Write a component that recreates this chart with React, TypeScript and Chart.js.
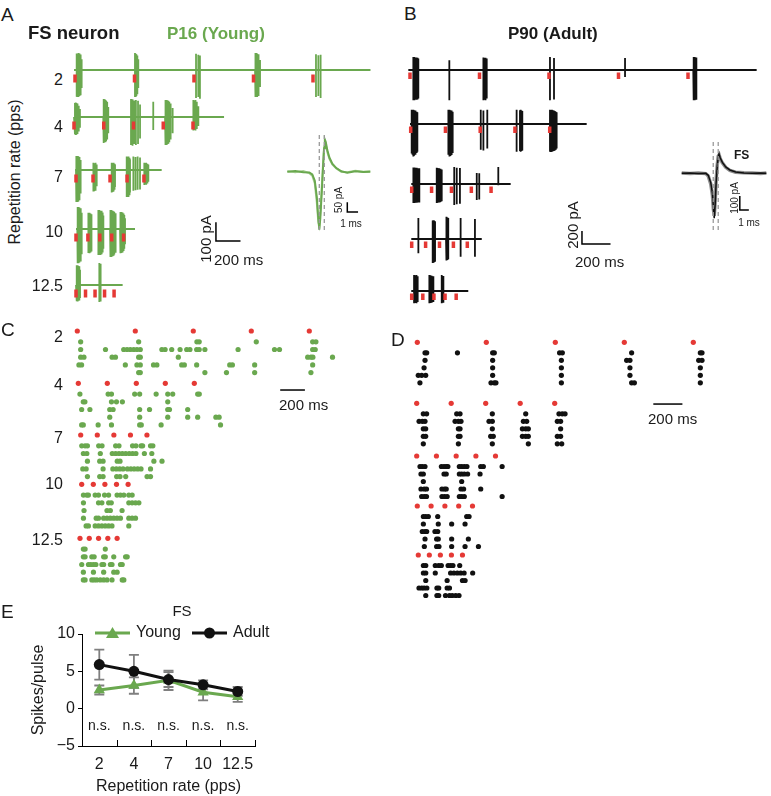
import React, { useEffect, useRef } from 'react';
import { Chart, registerables } from 'chart.js';

Chart.register(...registerables);

const FONT = '"Liberation Sans", Arial, Helvetica, sans-serif';
Chart.defaults.font.family = FONT;

const GREEN = '#6aa84f';
const GREEN_LIGHT = '#a8cf94';
const RED = '#e53935';
const BLACK = '#111111';
const TEXT = '#1a1a1a';

// ---------------- data ----------------
const RATE_LABELS = ['2', '4', '7', '10', '12.5'];

// stimulus (pulse) times, ms from first pulse
const STIM_2 = [0, 500, 1000, 1500, 2000];
const STIM_4 = [0, 250, 500, 750, 1000];
const STIM_7 = [0, 143, 286, 429, 571];
const STIM_10 = [0, 100, 200, 300, 400];
const STIM_12 = [0, 80, 160, 240, 320];

// Panel A traces (P16): spike events [time ms, upward pA, downward pA]
const A_TRACE_2 = [
  [14, 92, 148], [20, 85, 150], [26, 95, 145], [32, 88, 150], [38, 92, 145], [44, 86, 140], [50, 80, 135], [56, 60, 100],
  [504, 95, 150], [510, 90, 150], [516, 88, 145], [524, 80, 135], [532, 60, 100],
  [1017, 90, 155], [1036, 85, 150], [1050, 80, 160],
  [1513, 95, 140], [1519, 92, 150], [1525, 95, 145], [1531, 90, 150], [1538, 88, 145], [1546, 80, 135], [1555, 55, 95],
  [2025, 88, 150], [2045, 82, 145], [2064, 85, 155],
];
const A_TRACE_4 = [
  [8, 78, 95], [14, 80, 100], [20, 78, 98], [26, 75, 95], [32, 70, 90], [40, 62, 80], [50, 45, 60],
  [246, 100, 140], [252, 95, 145], [258, 98, 140], [264, 95, 140], [270, 90, 135], [279, 85, 125], [288, 55, 90],
  [479, 100, 155], [492, 98, 160], [505, 92, 150], [520, 95, 155], [538, 90, 150], [555, 70, 120],
  [666, 85, 72],
  [765, 95, 155], [772, 92, 150], [779, 95, 155], [786, 92, 150], [793, 90, 148], [801, 85, 140], [812, 75, 125], [829, 50, 90],
  [1003, 95, 75], [1010, 92, 72], [1017, 95, 75], [1024, 90, 70], [1032, 85, 66], [1045, 60, 50],
];
const A_TRACE_7 = [
  [0, 78, 178], [5, 76, 175], [10, 78, 178], [15, 75, 172], [20, 76, 175], [26, 72, 168], [32, 68, 160], [39, 55, 130],
  [146, 40, 120], [153, 38, 118], [160, 40, 115], [168, 35, 105], [174, 30, 90],
  [300, 40, 125], [308, 38, 122], [316, 40, 120], [324, 35, 110], [328, 30, 95],
  [426, 75, 150], [432, 72, 148], [438, 75, 150], [444, 72, 145], [450, 68, 140], [454, 60, 125],
  [482, 75, 115], [500, 72, 112], [518, 75, 110], [538, 70, 108],
  [574, 40, 83], [582, 38, 80], [590, 40, 82], [600, 35, 75], [608, 30, 65],
];
const A_TRACE_10 = [
  [11, 122, 190], [16, 120, 188], [21, 122, 190], [26, 118, 185], [31, 120, 186], [37, 115, 180], [42, 110, 170], [48, 90, 140],
  [104, 90, 133], [110, 88, 135], [116, 90, 133], [122, 86, 130], [128, 82, 125], [132, 70, 110],
  [188, 105, 145], [194, 102, 145], [200, 105, 143], [206, 100, 145], [212, 102, 140], [218, 98, 138], [224, 92, 130], [230, 75, 110],
  [286, 105, 155], [292, 102, 152], [298, 105, 155], [304, 100, 150], [310, 102, 152], [316, 98, 148], [322, 95, 142], [329, 88, 132], [336, 70, 105],
  [370, 95, 133], [376, 92, 135], [382, 95, 133], [388, 92, 130], [394, 90, 128], [400, 86, 122], [406, 78, 110], [412, 60, 85],
];
const A_TRACE_12 = [
  [6, 110, 90], [11, 108, 92], [16, 110, 90], [21, 106, 88], [26, 104, 86], [30, 98, 82], [34, 85, 72],
  [196, 122, 95], [203, 118, 92], [210, 100, 80],
];
const A_START = [-8, 0, -8, 0, 0];
const A_END = [2483, 1261, 720, 496, 392];

// Panel B traces (P90)
const B_TRACE_2 = [
  [24, 210, 490], [29, 205, 485], [34, 210, 490], [39, 200, 480], [44, 205, 485], [49, 195, 475], [54, 200, 480], [60, 185, 465],
  [283, 160, 490],
  [528, 205, 490], [534, 200, 485], [540, 195, 490], [546, 200, 480], [552, 185, 465],
  [1007, 210, 490], [1036, 195, 480],
  [1547, 195, 115],
  [2038, 210, 490], [2043, 205, 485], [2048, 210, 490], [2053, 200, 480], [2058, 205, 485], [2062, 190, 470],
];
const B_TRACE_4 = [
  [7, 230, 480], [13, 228, 500], [19, 230, 530], [25, 225, 515], [31, 220, 500], [37, 210, 485], [43, 200, 470], [48, 190, 450],
  [271, 230, 500], [276, 228, 510], [281, 230, 530], [286, 225, 520], [291, 218, 505], [297, 210, 490], [302, 200, 470],
  [504, 230, 420], [523, 220, 430], [551, 230, 400],
  [762, 230, 450], [786, 225, 440], [791, 230, 450], [797, 220, 440], [803, 210, 430],
  [1002, 230, 450], [1009, 228, 455], [1016, 230, 450], [1023, 225, 445], [1030, 218, 440], [1037, 210, 430], [1044, 200, 420], [1050, 190, 400],
];
const B_TRACE_7 = [
  [12, 270, 310], [20, 268, 308], [28, 265, 305], [36, 265, 305], [46, 258, 300], [55, 255, 300],
  [180, 265, 310], [186, 262, 305], [192, 258, 300], [198, 255, 300], [204, 250, 295], [210, 245, 290], [216, 235, 280],
  [306, 275, 340], [324, 265, 330], [347, 260, 320],
  [468, 180, 260], [486, 175, 250],
  [623, 275, 20],
];
const B_TRACE_10 = [
  [48, 340, 230],
  [151, 300, 390], [156, 305, 385], [161, 300, 380], [168, 290, 370],
  [247, 360, 350], [252, 355, 345], [257, 350, 340], [263, 340, 330],
  [352, 340, 290],
  [455, 325, 290],
];
const B_TRACE_12 = [
  [17, 260, 200], [24, 255, 195], [31, 260, 200], [37, 250, 190], [43, 240, 180],
  [127, 260, 200], [135, 255, 195], [144, 250, 190], [156, 240, 180],
  [216, 260, 200], [228, 245, 190],
];
const B_START = [-12, -5, -3, -3, -3];
const B_END = [2494, 1266, 712, 504, 407];

// Insets: average spike waveform (ms, pA)
const A_WAVE_T = [0, 0.8, 1.6, 2.2, 2.5, 2.75, 2.95, 3.1, 3.2, 3.3, 3.45, 3.58, 3.68, 3.76, 3.85, 4.0, 4.2, 4.5, 4.9, 5.4, 6.0, 6.8, 7.6, 8.3];
const A_WAVE_1 = [0, 4, -3, -4, -15, -50, -140, -260, -322, -260, -110, 30, 130, 178, 165, 120, 80, 45, 20, 2, -6, 3, -2, 0];
const A_WAVE_2 = [3, -3, 4, -8, -22, -65, -170, -280, -300, -230, -80, 50, 140, 165, 150, 110, 72, 40, 18, 0, -3, 5, 0, 2];
const A_DASH_T = [3.2, 3.7];
const B_WAVE_T = [0, 1.0, 2.0, 2.9, 3.2, 3.5, 3.7, 3.82, 3.92, 4.02, 4.14, 4.28, 4.4, 4.5, 4.65, 4.9, 5.3, 5.8, 6.5, 7.5, 8.5, 9.5, 10.2];
const B_WAVE_1 = [0, 3, -2, 0, -15, -70, -150, -260, -338, -250, -80, 50, 125, 145, 115, 82, 48, 25, 10, 2, 0, 3, 0];
const B_WAVE_2 = [2, -2, 3, -2, -20, -80, -165, -270, -320, -230, -60, 60, 130, 140, 110, 78, 45, 22, 8, 4, 2, -2, 2];
const B_DASH_T = [3.8, 4.4];

// Panel C rasters (P16): per trial spike times (ms)
const C_RASTER_2 = [
  [29, 529, 1031, 1051, 1543, 2029, 2057],
  [29, 243, 400, 429, 457, 486, 514, 543, 729, 757, 814, 886, 943, 971, 1029, 1051, 1100, 1386, 1700, 1743, 2029, 2051],
  [29, 57, 300, 329, 529, 543, 871, 1986, 2014, 2031, 2200],
  [14, 37, 414, 514, 543, 657, 686, 900, 923, 1029, 1314, 1337, 1529, 2029],
  [529, 543, 1100, 1286, 1529, 2014],
];
const C_RASTER_4 = [
  [14, 257, 286, 486, 529, 671, 771, 814, 1029, 1043],
  [43, 57, 286, 329, 380, 771],
  [29, 100, 271, 300, 529, 614, 771, 786, 943],
  [271, 529, 771, 943, 1029, 1186, 1214],
  [29, 43, 171, 286, 529, 543, 714, 1226],
];
const C_RASTER_7 = [
  [9, 38, 58, 155, 184, 301, 330, 447, 476, 520, 534, 602, 622],
  [23, 53, 169, 272, 301, 330, 359, 388, 418, 447, 476, 549, 613],
  [58, 164, 193, 315, 339, 631, 701],
  [18, 47, 193, 277, 307, 336, 365, 403, 432, 461, 491, 520, 602],
  [58, 164, 193, 310, 339, 388, 572, 602],
];
const C_RASTER_10 = [
  [15, 44, 58, 116, 145, 197, 232, 305, 334, 363, 406, 435],
  [15, 145, 174, 232, 255, 406, 435, 464, 493],
  [20, 218, 247, 348],
  [15, 125, 145, 189, 218, 247, 276, 305, 334, 406, 435, 464],
  [38, 58, 116, 145, 174, 203, 232, 261, 406],
];
const C_RASTER_12 = [
  [29, 44, 218],
  [29, 44, 102, 122, 204, 218, 291, 393, 407],
  [15, 73, 93, 116, 137, 189, 204, 262, 276, 349, 364],
  [29, 116, 204, 291, 320],
  [29, 44, 102, 122, 145, 175, 204, 233, 276, 364, 378],
];

// Panel D rasters (P90)
const D_RASTER_2 = [
  [56, 68, 291, 546, 558, 1031, 1051, 1553, 2051, 2063],
  [56, 546, 1044, 1517, 1541, 2039, 2063],
  [49, 546, 1044, 1541, 2051],
  [7, 32, 61, 546, 1044, 1541, 2051],
  [19, 534, 558, 570, 1044, 1553, 1573, 2051],
];
const D_RASTER_4 = [
  [48, 72, 290, 314, 548, 790, 1031, 1055, 1075],
  [17, 41, 60, 278, 302, 321, 524, 548, 773, 797, 1019, 1043],
  [48, 65, 302, 314, 548, 766, 790, 809, 1043],
  [48, 65, 302, 314, 536, 555, 766, 790, 809, 1019, 1043],
  [48, 302, 548, 809, 1019, 1051],
];
const D_RASTER_7 = [
  [24, 40, 60, 179, 198, 214, 226, 309, 326, 345, 364, 464, 483, 619],
  [31, 48, 198, 214, 309, 326, 345, 369, 459],
  [48, 326],
  [31, 55, 71, 183, 202, 214, 321, 340, 464],
  [36, 55, 71, 183, 202, 221, 309, 326, 345, 619],
];
const D_RASTER_10 = [
  [44, 61, 80, 148, 358, 375],
  [44, 152, 249, 346],
  [36, 56, 68, 128, 148],
  [56, 140, 152, 249, 370],
  [51, 140, 157, 249, 346, 443],
];
const D_RASTER_12 = [
  [37, 54, 123, 148, 167, 216, 234, 251, 300],
  [37, 54, 123, 234, 258, 283, 307, 332, 394],
  [54, 209, 320, 339],
  [5, 25, 42, 62, 135, 148, 209, 226],
  [54, 135, 148, 197, 226, 246, 271, 295],
];

// Panel E summary
const E_RATES = ['2', '4', '7', '10', '12.5'];
const E_YOUNG = [2.5, 3.1, 3.8, 2.2, 1.6];
const E_YOUNG_ERR = [0.6, 1.1, 1.3, 1.1, 0.7];
const E_ADULT = [5.9, 5.0, 3.9, 3.2, 2.3];
const E_ADULT_ERR = [2.0, 2.2, 1.0, 0.6, 0.6];
const E_SIG = ['n.s.', 'n.s.', 'n.s.', 'n.s.', 'n.s.'];

// scale-bar sizes
const BAR_MS = 200;
const BAR_PA_A = 100;
const BAR_PA_B = 200;
const INSET_BAR_MS = 1;
const INSET_BAR_PA_A = 50;
const INSET_BAR_PA_B = 100;

// ---------------- layout ----------------
const STIM = [STIM_2, STIM_4, STIM_7, STIM_10, STIM_12];
const A_TRACES = [A_TRACE_2, A_TRACE_4, A_TRACE_7, A_TRACE_10, A_TRACE_12];
const B_TRACES = [B_TRACE_2, B_TRACE_4, B_TRACE_7, B_TRACE_10, B_TRACE_12];
const C_RASTERS = [C_RASTER_2, C_RASTER_4, C_RASTER_7, C_RASTER_10, C_RASTER_12];
const D_RASTERS = [D_RASTER_2, D_RASTER_4, D_RASTER_7, D_RASTER_10, D_RASTER_12];

const A_OX = [75, 74, 76, 76, 76];
const A_OY = [70, 117, 170, 229, 285];
const B_OX = [410, 410.7, 411.7, 411.7, 411.7];
const B_OY = [70, 124, 184, 239, 291];
const C_OX = [77.3, 78.3, 80.7, 81.7, 80];
const C_OY = [334.1, 386.4, 438.1, 487.4, 541.4];
const D_OX = [417.3, 416.7, 416.7, 417.3, 418.3];
const D_OY = [345.3, 406.3, 459, 509, 558];
const STIM_ROW = -0.4;

type Frame = {
  x: number; y: number; w: number; h: number; pad: number;
  xMin: number; xMax: number; yMin: number; yMax: number; reverse: boolean;
};

function frame(ox: number, oy: number, kx: number, ky: number, x0: number, x1: number, y0: number, y1: number, reverse = false, pad = 4): Frame {
  const left = Math.floor(ox + x0 * kx - pad);
  const right = Math.ceil(ox + x1 * kx + pad);
  let top: number, bottom: number;
  if (reverse) {
    top = Math.floor(oy + y0 * ky - pad);
    bottom = Math.ceil(oy + y1 * ky + pad);
  } else {
    top = Math.floor(oy - y1 * ky - pad);
    bottom = Math.ceil(oy - y0 * ky + pad);
  }
  const xMin = (left + pad - ox) / kx;
  const xMax = (right - pad - ox) / kx;
  let yMin: number, yMax: number;
  if (reverse) {
    yMin = (top + pad - oy) / ky;
    yMax = (bottom - pad - oy) / ky;
  } else {
    yMax = (oy - top - pad) / ky;
    yMin = (oy - bottom + pad) / ky;
  }
  return { x: left, y: top, w: right - left, h: bottom - top, pad, xMin, xMax, yMin, yMax, reverse };
}

function baseOptions(f: Frame): any {
  return {
    responsive: false,
    animation: false,
    devicePixelRatio: 1,
    events: [],
    layout: { padding: f.pad },
    plugins: { legend: { display: false }, tooltip: { enabled: false } },
    scales: {
      x: { type: 'linear', display: false, min: f.xMin, max: f.xMax },
      y: { type: 'linear', display: false, min: f.yMin, max: f.yMax, reverse: f.reverse },
    },
  };
}

type Bar = { x: number; y: number; dx: number; dy: number; width?: number };

function scaleBarPlugin(bar?: Bar) {
  return {
    id: 'scaleBar',
    afterDatasetsDraw(chart: any) {
      if (!bar) return;
      const { ctx } = chart;
      const xs = chart.scales.x;
      const ys = chart.scales.y;
      const x0 = xs.getPixelForValue(bar.x);
      const y0 = ys.getPixelForValue(bar.y);
      ctx.save();
      ctx.strokeStyle = '#000';
      ctx.lineWidth = bar.width || 1.5;
      ctx.lineCap = 'square';
      ctx.beginPath();
      if (bar.dy) {
        ctx.moveTo(x0, ys.getPixelForValue(bar.y + bar.dy));
        ctx.lineTo(x0, y0);
      } else {
        ctx.moveTo(x0, y0);
      }
      ctx.lineTo(xs.getPixelForValue(bar.x + bar.dx), y0);
      ctx.stroke();
      ctx.restore();
    },
  };
}

function traceConfig(f: Frame, events: number[][], start: number, end: number, stim: number[], color: string, mark: number[], bar?: Bar) {
  const pts: any[] = [{ x: start, y: 0 }];
  events.forEach(([t, u, d]) => {
    pts.push({ x: t, y: 0 }, { x: t, y: u }, { x: t, y: -d }, { x: t, y: 0 });
  });
  pts.push({ x: end, y: 0 });
  const marks: any[] = [];
  stim.forEach((t) => marks.push({ x: t, y: mark[0] }, { x: t, y: mark[1] }, { x: t, y: null }));
  return {
    type: 'scatter',
    data: {
      datasets: [
        { data: marks, showLine: true, borderColor: RED, borderWidth: 3.5, pointRadius: 0, spanGaps: false, borderCapStyle: 'butt' },
        { data: pts, showLine: true, borderColor: color, borderWidth: 1.8, pointRadius: 0, borderJoinStyle: 'bevel' },
      ],
    },
    options: baseOptions(f),
    plugins: [scaleBarPlugin(bar)],
  };
}

function rasterConfig(f: Frame, stim: number[], trials: number[][], color: string, bar?: Bar) {
  const spikes: any[] = [];
  trials.forEach((row, k) => row.forEach((t) => spikes.push({ x: t, y: k + 1 })));
  return {
    type: 'scatter',
    data: {
      datasets: [
        { data: stim.map((t) => ({ x: t, y: STIM_ROW })), pointRadius: 2.6, backgroundColor: RED, borderWidth: 0 },
        { data: spikes, pointRadius: 2.6, backgroundColor: color, borderWidth: 0 },
      ],
    },
    options: baseOptions(f),
    plugins: [scaleBarPlugin(bar)],
  };
}

function insetConfig(f: Frame, t: number[], w1: number[], w2: number[], dash: number[], c1: string, c2: string, lw1: number, lw2: number, bar: Bar) {
  const dashSets = dash.map((d) => ({
    data: [{ x: d, y: f.yMax }, { x: d, y: f.yMin }],
    showLine: true, borderColor: '#9a9a9a', borderWidth: 1.3, borderDash: [4, 3], pointRadius: 0,
  }));
  return {
    type: 'scatter',
    data: {
      datasets: [
        ...dashSets,
        { data: t.map((x, i) => ({ x, y: w1[i] })), showLine: true, borderColor: c1, borderWidth: lw1, pointRadius: 0 },
        { data: t.map((x, i) => ({ x, y: w2[i] })), showLine: true, borderColor: c2, borderWidth: lw2, pointRadius: 0 },
      ],
    },
    options: baseOptions(f),
    plugins: [scaleBarPlugin(bar)],
  };
}

function eConfig() {
  const errs = [E_ADULT_ERR, E_YOUNG_ERR];
  const styles = ['circle', 'triangle'];
  const decor = {
    id: 'eDecor',
    beforeDatasetsDraw(chart: any) {
      const { ctx } = chart;
      const ys = chart.scales.y;
      ctx.save();
      ctx.strokeStyle = '#7f7f7f';
      ctx.lineWidth = 1.8;
      chart.data.datasets.forEach((ds: any, i: number) => {
        const meta = chart.getDatasetMeta(i);
        ds.data.forEach((v: number, j: number) => {
          const x = meta.data[j].x;
          const yt = ys.getPixelForValue(v + errs[i][j]);
          const yb = ys.getPixelForValue(v - errs[i][j]);
          ctx.beginPath();
          ctx.moveTo(x, yt); ctx.lineTo(x, yb);
          ctx.moveTo(x - 5, yt); ctx.lineTo(x + 5, yt);
          ctx.moveTo(x - 5, yb); ctx.lineTo(x + 5, yb);
          ctx.stroke();
        });
      });
      ctx.restore();
    },
    afterDraw(chart: any) {
      const { ctx, chartArea } = chart;
      const { left, right, bottom, top } = chartArea;
      const xs = chart.scales.x;
      const ys = chart.scales.y;
      ctx.save();
      // inward tick marks at category boundaries
      ctx.strokeStyle = '#000';
      ctx.lineWidth = 1;
      const n = E_RATES.length;
      for (let i = 1; i <= n; i++) {
        const x = Math.round(left + (i * (right - left)) / n) + 0.5;
        ctx.beginPath();
        ctx.moveTo(x, bottom);
        ctx.lineTo(x, bottom - 6);
        ctx.stroke();
      }
      // significance labels
      ctx.fillStyle = TEXT;
      ctx.font = `14px ${FONT}`;
      ctx.textAlign = 'center';
      ctx.textBaseline = 'middle';
      E_SIG.forEach((s, i) => ctx.fillText(s, xs.getPixelForValue(i), ys.getPixelForValue(-2.3)));
      // legend (Young, Adult)
      const order = [1, 0];
      const slots = [13, 110];
      ctx.font = `16px ${FONT}`;
      ctx.textAlign = 'left';
      order.forEach((di, k) => {
        const ds = chart.data.datasets[di];
        const x0 = left + slots[k];
        const x1 = x0 + 35;
        const y = top - 1;
        ctx.strokeStyle = ds.borderColor;
        ctx.lineWidth = 3;
        ctx.beginPath();
        ctx.moveTo(x0, y); ctx.lineTo(x1, y);
        ctx.stroke();
        ctx.fillStyle = ds.borderColor;
        const cx = (x0 + x1) / 2;
        ctx.beginPath();
        if (styles[di] === 'triangle') {
          ctx.moveTo(cx, y - 6); ctx.lineTo(cx + 6.5, y + 5); ctx.lineTo(cx - 6.5, y + 5); ctx.closePath();
        } else {
          ctx.arc(cx, y, 5.5, 0, Math.PI * 2);
        }
        ctx.fill();
        ctx.fillStyle = TEXT;
        ctx.fillText(ds.label, x1 + 6, y);
      });
      ctx.restore();
    },
  };
  return {
    type: 'line',
    data: {
      labels: E_RATES,
      datasets: [
        { label: 'Adult', data: E_ADULT, borderColor: BLACK, backgroundColor: BLACK, borderWidth: 3, pointStyle: 'circle', pointRadius: 5.5, pointBorderWidth: 0 },
        { label: 'Young', data: E_YOUNG, borderColor: GREEN, backgroundColor: GREEN, borderWidth: 3, pointStyle: 'triangle', pointRadius: 6.5, pointBorderWidth: 0 },
      ],
    },
    options: {
      responsive: false,
      animation: false,
      devicePixelRatio: 1,
      events: [],
      layout: { padding: { left: 25, top: 39, right: 35, bottom: 0 } },
      plugins: { legend: { display: false }, tooltip: { enabled: false } },
      scales: {
        x: {
          type: 'category',
          offset: true,
          grid: { display: false, drawTicks: false },
          border: { display: true, color: '#000', width: 1 },
          ticks: { color: TEXT, font: { size: 16 }, padding: 9, maxRotation: 0, minRotation: 0, autoSkip: false },
          title: { display: true, text: 'Repetition rate (pps)', color: TEXT, font: { size: 16 }, padding: { top: 0, bottom: 0 } },
          afterFit(s: any) { s.height = 50; },
        },
        y: {
          min: -5,
          max: 10,
          ticks: { stepSize: 5, color: TEXT, font: { size: 16 }, padding: 3, callback: (v: number) => (v < 0 ? '\u2212' + Math.abs(v) : String(v)) },
          grid: { drawOnChartArea: false, drawTicks: true, tickLength: 4, color: '#000' },
          border: { display: true, color: '#000', width: 1 },
          title: { display: true, text: 'Spikes/pulse', color: TEXT, font: { size: 16 }, padding: { top: 4, bottom: 0 } },
          afterFit(s: any) { s.width = 57; },
        },
      },
    },
    plugins: [decor],
  };
}

// ---------------- components ----------------
function ChartBox({ f, make }: { f: { x: number; y: number; w: number; h: number }; make: () => any }) {
  const ref = useRef<HTMLCanvasElement>(null);
  useEffect(() => {
    const c = new Chart(ref.current as HTMLCanvasElement, make());
    return () => c.destroy();
  }, []);
  return (
    <canvas
      ref={ref}
      width={f.w}
      height={f.h}
      style={{ position: 'absolute', left: f.x, top: f.y, width: f.w, height: f.h }}
    />
  );
}

type Lab = { t: string; x: number; y: number; s: number; b?: boolean; c?: string; a?: 'l' | 'r' | 'c'; r?: boolean };

function Label({ t, x, y, s, b, c, a = 'l', r }: Lab) {
  const tx = a === 'l' ? '0' : a === 'r' ? '-100%' : '-50%';
  return (
    <div
      style={{
        position: 'absolute', left: x, top: y,
        transform: r ? 'translate(-50%,-50%) rotate(-90deg)' : `translate(${tx},-50%)`,
        fontSize: s, fontWeight: b ? 700 : 400, color: c || TEXT, lineHeight: 1,
        whiteSpace: 'nowrap', fontFamily: FONT,
      }}
    >
      {t}
    </div>
  );
}

const KX_A = 0.119, KY_A = 0.18;
const KX_B = 0.139, KY_B = 0.0615;
const KX_C = 0.116, KY_C = 7.7;
const KX_D = 0.138, KY_D = 7.5;

function buildCharts() {
  const list: { f: Frame | { x: number; y: number; w: number; h: number }; make: () => any }[] = [];
  for (let i = 0; i < 5; i++) {
    const fa = frame(A_OX[i], A_OY[i], KX_A, KY_A, -20, 2520, -200, 130);
    const barA = i === 3 ? { x: 1176, y: -67, dx: BAR_MS, dy: BAR_PA_A } : undefined;
    list.push({ f: fa, make: () => traceConfig(fa, A_TRACES[i], A_START[i], A_END[i], STIM[i], GREEN, [-25, -70], barA) });
    const fb = frame(B_OX[i], B_OY[i], KX_B, KY_B, -20, 2520, -560, 400);
    const barB = i === 3 ? { x: 1225, y: -81, dx: BAR_MS, dy: BAR_PA_B } : undefined;
    list.push({ f: fb, make: () => traceConfig(fb, B_TRACES[i], B_START[i], B_END[i], STIM[i], BLACK, [-40, -145], barB) });
    const fc = frame(C_OX[i], C_OY[i], KX_C, KY_C, -40, 2500, -1.2, 5.8, true);
    const barC = i === 1 ? { x: 1747, y: 0.47, dx: BAR_MS, dy: 0 } : undefined;
    list.push({ f: fc, make: () => rasterConfig(fc, STIM[i], C_RASTERS[i], GREEN, barC) });
    const fd = frame(D_OX[i], D_OY[i], KX_D, KY_D, -40, 2300, -1.2, 5.8, true);
    const barD = i === 1 ? { x: 1720, y: -0.3, dx: BAR_MS, dy: 0 } : undefined;
    list.push({ f: fd, make: () => rasterConfig(fd, STIM[i], D_RASTERS[i], BLACK, barD) });
  }
  const fia = frame(287.3, 171.7, 10, 0.18, -0.3, 8.6, -340, 200);
  list.push({ f: fia, make: () => insetConfig(fia, A_WAVE_T, A_WAVE_1, A_WAVE_2, A_DASH_T, GREEN, GREEN_LIGHT, 2, 2, { x: 6.0, y: -224, dx: INSET_BAR_MS, dy: INSET_BAR_PA_A }) });
  const fib = frame(681.7, 173.3, 8.3, 0.133, -0.3, 10.5, -440, 230);
  list.push({ f: fib, make: () => insetConfig(fib, B_WAVE_T, B_WAVE_1, B_WAVE_2, B_DASH_T, BLACK, '#8c8c8c', 1.5, 3.5, { x: 7.0, y: -276, dx: INSET_BAR_MS, dy: INSET_BAR_PA_B }) });
  list.push({ f: { x: 0, y: 595, w: 290, h: 201 }, make: eConfig });
  return list;
}

const CHARTS = buildCharts();

const A_LABEL_Y = [80, 127, 177, 232, 286];
const C_LABEL_Y = [337, 385, 438, 484, 540];

const LABELS: Lab[] = [
  { t: 'A', x: 1, y: 14, s: 19 },
  { t: 'FS neuron', x: 28, y: 33, s: 18.5, b: true },
  { t: 'P16 (Young)', x: 167, y: 33, s: 17, b: true, c: GREEN },
  ...RATE_LABELS.map((t, i) => ({ t, x: 63, y: A_LABEL_Y[i], s: 16, a: 'r' as const })),
  { t: 'Repetition rate (pps)', x: 15, y: 172, s: 16, r: true },
  { t: '100 pA', x: 205, y: 239, s: 15, r: true },
  { t: '200 ms', x: 214, y: 259, s: 15 },
  { t: '50 pA', x: 338.5, y: 200, s: 10, r: true },
  { t: '1 ms', x: 351, y: 224, s: 10, a: 'c' },
  { t: 'B', x: 404, y: 13, s: 19 },
  { t: 'P90 (Adult)', x: 508, y: 33, s: 17, b: true },
  { t: '200 pA', x: 572, y: 225, s: 15, r: true },
  { t: '200 ms', x: 575, y: 261, s: 15 },
  { t: 'FS', x: 734, y: 155, s: 12, b: true },
  { t: '100 pA', x: 735, y: 198, s: 10, r: true },
  { t: '1 ms', x: 749, y: 223, s: 10, a: 'c' },
  { t: 'C', x: 1, y: 329, s: 19 },
  ...RATE_LABELS.map((t, i) => ({ t, x: 63, y: C_LABEL_Y[i], s: 16, a: 'r' as const })),
  { t: '200 ms', x: 279, y: 404, s: 15 },
  { t: 'D', x: 391, y: 339, s: 19 },
  { t: '200 ms', x: 648, y: 418, s: 15 },
  { t: 'E', x: 1, y: 611, s: 19 },
  { t: 'FS', x: 182, y: 610, s: 15, a: 'c' },
];

export default function App() {
  return (
    <div style={{ position: 'absolute', left: 0, top: 0, width: 771, height: 796, background: '#fff', overflow: 'hidden', fontFamily: FONT }}>
      {CHARTS.map((c, i) => (
        <ChartBox key={i} f={c.f} make={c.make} />
      ))}
      {LABELS.map((l, i) => (
        <Label key={'l' + i} {...l} />
      ))}
    </div>
  );
}
